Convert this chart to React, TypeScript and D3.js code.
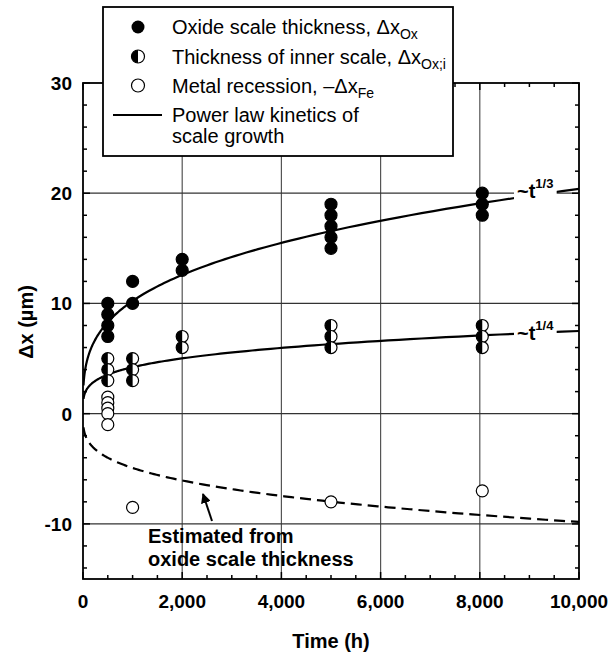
import React from "react";
import * as d3 from "d3";

// ---- Data ----
const oxideTime = [500, 500, 500, 500, 1000, 1000, 2000, 2000, 5000, 5000, 5000, 5000, 5000, 8050, 8050, 8050];
const oxideValue = [10, 9, 8, 7, 12, 10, 14, 13, 19, 18, 17, 16, 15, 20, 19, 18];

const innerTime = [500, 500, 500, 1000, 1000, 1000, 2000, 2000, 5000, 5000, 5000, 8050, 8050, 8050];
const innerValue = [5, 4, 3, 5, 4, 3, 7, 6, 8, 7, 6, 8, 7, 6];

const metalTime = [500, 500, 500, 500, 500, 1000, 5000, 8050];
const metalValue = [1.5, 1.0, 0.5, 0.0, -1.0, -8.5, -8.0, -7.0];

// power-law fits y = a * t^n
const oxideFit = { a: 1.287, n: 0.3 };
const innerFit = { a: 0.75, n: 0.25 };
const recessionFit = { a: -0.62, n: 0.3 };

const xTicks = [0, 2000, 4000, 6000, 8000, 10000];
const yTicks = [-10, 0, 10, 20, 30];
const xGrid = [2000, 4000, 6000, 8000];
const yGrid = [-10, 0, 10, 20];

const FONT = "'Liberation Sans', Arial, Helvetica, sans-serif";

export default function App() {
  const W = 612, H = 654;
  const L = 83, R = 579, T = 83, B = 579;
  const x = d3.scaleLinear().domain([0, 10000]).range([L, R]);
  const y = d3.scaleLinear().domain([-15, 30]).range([B, T]);

  const tSamples = d3.range(0, 200).map((i) => Math.pow(10, 1 + (i / 199) * 3));
  const curve = (f: { a: number; n: number }) =>
    d3
      .line<number>()
      .x((t) => x(t))
      .y((t) => y(f.a * Math.pow(t, f.n)))(tSamples) as string;

  const r = 6;
  const xMinor = d3.range(0, 10001, 500);
  const yMinor = d3.range(-14, 31, 2);

  const halfPath = (cx: number, cy: number) =>
    `M${cx},${cy - r} A${r},${r} 0 0 0 ${cx},${cy + r} Z`;

  const lblX = x(8750);
  const oxEnd = y(oxideFit.a * Math.pow(10000, oxideFit.n));
  const inEnd = y(innerFit.a * Math.pow(10000, innerFit.n));

  return (
    <svg
      width={W}
      height={H}
      style={{ position: "absolute", left: 0, top: 0, background: "#fff" }}
      fontFamily={FONT}
    >
      <rect x={0} y={0} width={W} height={H} fill="#fff" />
      {/* grid */}
      {xGrid.map((v) => (
        <line key={"gx" + v} x1={x(v)} x2={x(v)} y1={T} y2={B} stroke="#555" strokeWidth={1.2} />
      ))}
      {yGrid.map((v) => (
        <line key={"gy" + v} x1={L} x2={R} y1={y(v)} y2={y(v)} stroke="#333" strokeWidth={1.2} />
      ))}

      {/* ticks (inward, all four sides) */}
      {xMinor.map((v) => {
        const len = v % 2000 === 0 ? 7 : 4;
        return (
          <g key={"xt" + v}>
            <line x1={x(v)} x2={x(v)} y1={B} y2={B - len} stroke="#000" strokeWidth={1.5} />
            <line x1={x(v)} x2={x(v)} y1={T} y2={T + len} stroke="#000" strokeWidth={1.5} />
          </g>
        );
      })}
      {yMinor.map((v) => {
        const len = v % 10 === 0 ? 7 : 4;
        return (
          <g key={"yt" + v}>
            <line x1={L} x2={L + len} y1={y(v)} y2={y(v)} stroke="#000" strokeWidth={1.5} />
            <line x1={R} x2={R - len} y1={y(v)} y2={y(v)} stroke="#000" strokeWidth={1.5} />
          </g>
        );
      })}

      {/* curves */}
      <defs>
        <clipPath id="plotclip">
          <rect x={L} y={T} width={R - L} height={B - T} />
        </clipPath>
      </defs>
      <g clipPath="url(#plotclip)">
        <path d={curve(oxideFit)} fill="none" stroke="#000" strokeWidth={2.2} />
        <path d={curve(innerFit)} fill="none" stroke="#000" strokeWidth={2.2} />
        <path d={curve(recessionFit)} fill="none" stroke="#000" strokeWidth={2.2} strokeDasharray="11,6" />
      </g>

      {/* curve labels */}
      <rect x={lblX - 3} y={oxEnd - 18} width={x(9550) - lblX + 3} height={32} fill="#fff" />
      <text x={lblX} y={oxEnd + 9} fontSize={20} fontWeight="bold">
        ~t<tspan fontSize={13} dy={-10}>1/3</tspan>
      </text>
      <rect x={lblX - 3} y={inEnd - 18} width={x(9550) - lblX + 3} height={32} fill="#fff" />
      <text x={lblX} y={inEnd + 9} fontSize={20} fontWeight="bold">
        ~t<tspan fontSize={13} dy={-10}>1/4</tspan>
      </text>

      {/* points */}
      {oxideTime.map((t, i) => (
        <circle key={"o" + i} cx={x(t)} cy={y(oxideValue[i])} r={r} fill="#000" stroke="#000" strokeWidth={1.2} />
      ))}
      {innerTime.map((t, i) => (
        <g key={"i" + i}>
          <circle cx={x(t)} cy={y(innerValue[i])} r={r} fill="#fff" stroke="#000" strokeWidth={1.2} />
          <path d={halfPath(x(t), y(innerValue[i]))} fill="#000" />
        </g>
      ))}
      {metalTime.map((t, i) => (
        <circle key={"m" + i} cx={x(t)} cy={y(metalValue[i])} r={r} fill="#fff" stroke="#000" strokeWidth={1.2} />
      ))}

      {/* annotation */}
      <defs>
        <marker id="arrow" viewBox="0 0 10 10" refX={9} refY={5} markerWidth={5} markerHeight={5} orient="auto">
          <path d="M0,0 L10,5 L0,10 Z" fill="#000" />
        </marker>
      </defs>
      <line x1={212} y1={521} x2={203} y2={494} stroke="#000" strokeWidth={2} markerEnd="url(#arrow)" />
      <text x={148} y={543} fontSize={20} fontWeight="bold">Estimated from</text>
      <text x={148} y={566} fontSize={20} fontWeight="bold">oxide scale thickness</text>

      {/* frame */}
      <rect x={L} y={T} width={R - L} height={B - T} fill="none" stroke="#000" strokeWidth={1.8} />

      {/* tick labels */}
      {yTicks.map((v) => (
        <text key={"yl" + v} x={72} y={y(v) + 7} fontSize={19} fontWeight="bold" textAnchor="end">
          {v}
        </text>
      ))}
      {xTicks.map((v) => (
        <text key={"xl" + v} x={x(v)} y={608} fontSize={19} fontWeight="bold" textAnchor="middle">
          {d3.format(",")(v)}
        </text>
      ))}
      <text x={(L + R) / 2} y={648} fontSize={20} fontWeight="bold" textAnchor="middle">
        Time (h)
      </text>
      <text
        transform={`translate(33, 322) rotate(-90)`}
        fontSize={20}
        fontWeight="bold"
        textAnchor="middle"
      >
        Δx (µm)
      </text>

      {/* legend */}
      <rect x={103} y={7} width={350} height={149} fill="#fff" stroke="#000" strokeWidth={1.8} />
      <circle cx={138} cy={27} r={6.5} fill="#000" />
      <circle cx={138} cy={56.5} r={6.5} fill="#fff" stroke="#000" strokeWidth={1.2} />
      <path d={`M138,${56.5 - 6.5} A6.5,6.5 0 0 0 138,${56.5 + 6.5} Z`} fill="#000" />
      <circle cx={138} cy={85.5} r={6.5} fill="#fff" stroke="#000" strokeWidth={1.2} />
      <line x1={113} x2={162} y1={115} y2={115} stroke="#000" strokeWidth={2} />
      <text x={172} y={34} fontSize={20}>
        Oxide scale thickness, Δx<tspan fontSize={14} dy={5}>Ox</tspan>
      </text>
      <text x={172} y={64} fontSize={20}>
        Thickness of inner scale, Δx<tspan fontSize={14} dy={5}>Ox;i</tspan>
      </text>
      <text x={172} y={93} fontSize={20}>
        Metal recession, –Δx<tspan fontSize={14} dy={5}>Fe</tspan>
      </text>
      <text x={172} y={122} fontSize={20}>Power law kinetics of</text>
      <text x={172} y={143} fontSize={20}>scale growth</text>
    </svg>
  );
}
